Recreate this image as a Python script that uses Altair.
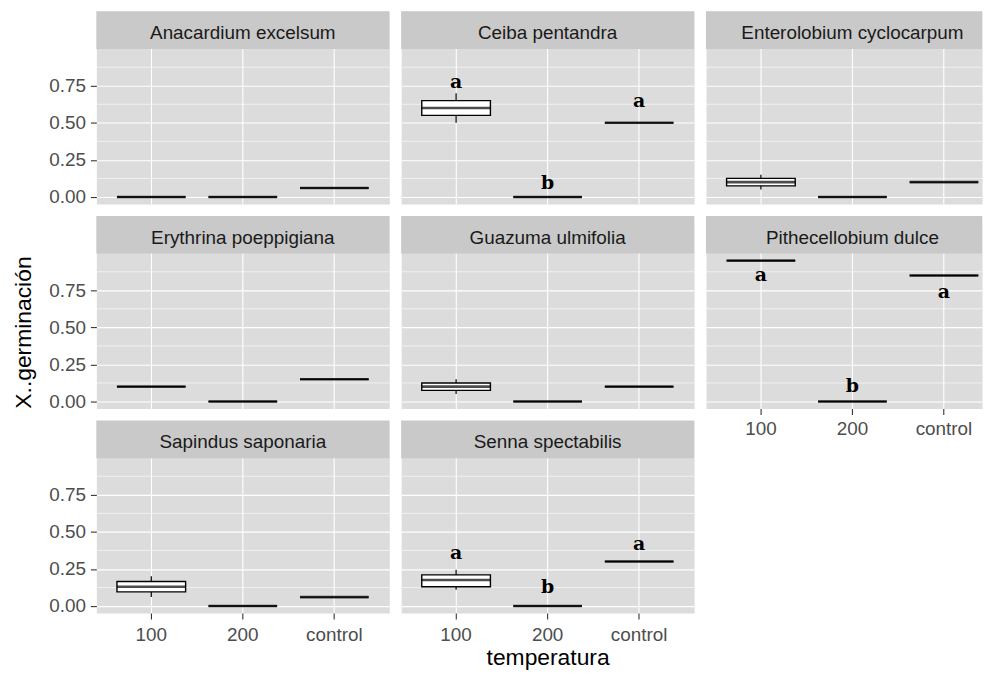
import altair as alt
import pandas as pd

# ---------------- data ----------------
species = [
    "Anacardium excelsum", "Ceiba pentandra", "Enterolobium cyclocarpum",
    "Erythrina poeppigiana", "Guazuma ulmifolia", "Pithecellobium dulce",
    "Sapindus saponaria", "Senna spectabilis",
]
temps = ["100", "200", "control"]

# five-number summaries (per species: values for 100, 200, control)
min_vals = [
    [0.00, 0.00, 0.06], [0.50, 0.00, 0.50], [0.05, 0.00, 0.10], [0.10, 0.00, 0.15],
    [0.05, 0.00, 0.10], [0.95, 0.00, 0.85], [0.06, 0.00, 0.06], [0.11, 0.00, 0.30],
]
q1_vals = [
    [0.00, 0.00, 0.06], [0.55, 0.00, 0.50], [0.075, 0.00, 0.10], [0.10, 0.00, 0.15],
    [0.075, 0.00, 0.10], [0.95, 0.00, 0.85], [0.095, 0.00, 0.06], [0.13, 0.00, 0.30],
]
med_vals = [
    [0.00, 0.00, 0.06], [0.60, 0.00, 0.50], [0.10, 0.00, 0.10], [0.10, 0.00, 0.15],
    [0.10, 0.00, 0.10], [0.95, 0.00, 0.85], [0.13, 0.00, 0.06], [0.175, 0.00, 0.30],
]
q3_vals = [
    [0.00, 0.00, 0.06], [0.65, 0.00, 0.50], [0.125, 0.00, 0.10], [0.10, 0.00, 0.15],
    [0.125, 0.00, 0.10], [0.95, 0.00, 0.85], [0.165, 0.00, 0.06], [0.21, 0.00, 0.30],
]
max_vals = [
    [0.00, 0.00, 0.06], [0.70, 0.00, 0.50], [0.15, 0.00, 0.10], [0.10, 0.00, 0.15],
    [0.15, 0.00, 0.10], [0.95, 0.00, 0.85], [0.20, 0.00, 0.06], [0.245, 0.00, 0.30],
]

# significance letters
letter_species = ["Ceiba pentandra"] * 3 + ["Pithecellobium dulce"] * 3 + ["Senna spectabilis"] * 3
letter_temps = temps * 3
letter_text = ["a", "b", "a", "a", "b", "a", "a", "b", "a"]
letter_y = [0.733, 0.052, 0.607, 0.816, 0.067, 0.696, 0.317, 0.086, 0.378]

y_ticks = [0.0, 0.25, 0.5, 0.75]
y_minor = [0.125, 0.375, 0.625, 0.875]

# ---------------- layout / style ----------------
PANEL_W = 295
LAST_W = 278          # right column is cropped in the reference
STRIP = 38
PLOT_H = 156
Y_LO, Y_HI = -0.0475, 0.9975
Y_TOP = Y_HI + STRIP * (Y_HI - Y_LO) / PLOT_H
PANEL_BG = "#DCDCDC"
STRIP_BG = "#C9C9C9"
FONT = "Liberation Sans"

STEP = PANEL_W / 3.2           # ggplot discrete expansion of 0.6 units
FIRST_C = 0.6 * STEP
P_INNER = 0.25                 # band = 0.75 of step (box width)

letters_df = pd.DataFrame({"sp": letter_species, "temperatura": letter_temps,
                           "letra": letter_text, "y": letter_y})


def x_scale(w):
    p_outer = ((w / STEP) - 3 + P_INNER) / 2
    outer = w - STEP * (3 - P_INNER)
    al = (FIRST_C - STEP * (1 - P_INNER) / 2) / outer
    return alt.Scale(domain=temps, paddingInner=P_INNER, paddingOuter=p_outer, align=al)


def make_panel(i):
    sp = species[i]
    col = i % 3
    w = LAST_W if col == 2 else PANEL_W
    show_x = sp in ("Pithecellobium dulce", "Sapindus saponaria", "Senna spectabilis")
    show_y = col == 0

    xkw = dict(grid=True, bandPosition=0.5, labelAngle=0, domain=False,
               labels=show_x, ticks=show_x,
               labelPadding=5 if sp == "Pithecellobium dulce" else 7)
    xtitle = None
    if sp == "Senna spectabilis":
        xtitle = "temperatura"
        xkw.update(titleFontSize=23, titleColor="black", titleFontWeight="normal",
                   titleY=52, titleBaseline="alphabetic")
    ykw = dict(values=y_ticks, grid=True, labels=show_y, ticks=show_y,
               format=".2f", labelPadding=5, domain=False)
    ytitle = None
    if sp == "Erythrina poeppigiana":
        ytitle = "X..germinación"
        ykw.update(titleFontSize=23, titleColor="black", titleFontWeight="normal",
                   titleAngle=270, titleX=-73, titleY=117, titleAlign="center",
                   titleBaseline="middle")

    xscale = x_scale(w)
    yscale = alt.Scale(domain=[Y_LO, Y_TOP], nice=False, zero=False)
    xaxis = alt.Axis(**xkw)
    yaxis = alt.Axis(**ykw)

    def X():
        return alt.X("temperatura:N", scale=xscale, axis=xaxis, title=xtitle)

    def Y(field):
        return alt.Y(field, scale=yscale, axis=yaxis, title=ytitle)

    box_df = pd.DataFrame({
        "temperatura": temps, "ymin": min_vals[i], "q1": q1_vals[i],
        "med": med_vals[i], "q3": q3_vals[i], "ymax": max_vals[i],
    })
    minor_df = pd.DataFrame({"v": y_minor})
    strip_df = pd.DataFrame({"sp": [sp]})

    minor = alt.Chart(minor_df).mark_rule(color="white", strokeWidth=0.6).encode(y=Y("v:Q"))
    whisk = alt.Chart(box_df).mark_rule(color="black", strokeWidth=1.2).encode(
        x=X(), y=Y("ymin:Q"), y2="ymax:Q")
    box = alt.Chart(box_df).mark_bar(fill="white", stroke="black", strokeWidth=1.4,
                                     width=alt.RelativeBandSize(1)).encode(
        x=X(), y=Y("q1:Q"), y2="q3:Q")
    med = alt.Chart(box_df).mark_tick(color="black", thickness=2.6,
                                      size=STEP * (1 - P_INNER)).encode(
        x=X(), y=Y("med:Q"))
    layers = [minor, whisk, box, med]

    ldf = letters_df[letters_df["sp"] == sp]
    if len(ldf):
        letters = alt.Chart(ldf).mark_text(font="DejaVu Serif", fontWeight="bold", fontSize=19,
                                           color="black", baseline="alphabetic", align="center").encode(
            x=X(), y=Y("y:Q"), text="letra:N")
        layers.append(letters)

    strip_rect = alt.Chart(strip_df).mark_rect(color=STRIP_BG).encode(
        x=alt.value(0), x2=alt.value(w), y=alt.value(0), y2=alt.value(STRIP))
    strip_text = alt.Chart(strip_df).mark_text(font=FONT, fontSize=19, color="#1A1A1A",
                                               baseline="alphabetic", align="center").encode(
        x=alt.value(PANEL_W / 2), y=alt.value(28), text="sp:N")
    layers += [strip_rect, strip_text]

    return alt.layer(*layers).properties(width=w, height=STRIP + PLOT_H)


panels = [make_panel(i) for i in range(len(species))]

chart = alt.concat(*panels, columns=3, spacing=12, bounds="flush", align="each").configure_view(
    fill=PANEL_BG, stroke="transparent"
).configure_axis(
    gridColor="white", gridWidth=1.1, tickColor="#333333", tickWidth=1.1, tickSize=6,
    labelColor="#4D4D4D", labelFontSize=19, labelFont=FONT, titleFont=FONT,
).properties(
    padding={"left": 4, "top": 0, "right": 0, "bottom": 0}, background="white"
)

chart.save("out.html", embed_options={"renderer": "svg", "actions": False})
